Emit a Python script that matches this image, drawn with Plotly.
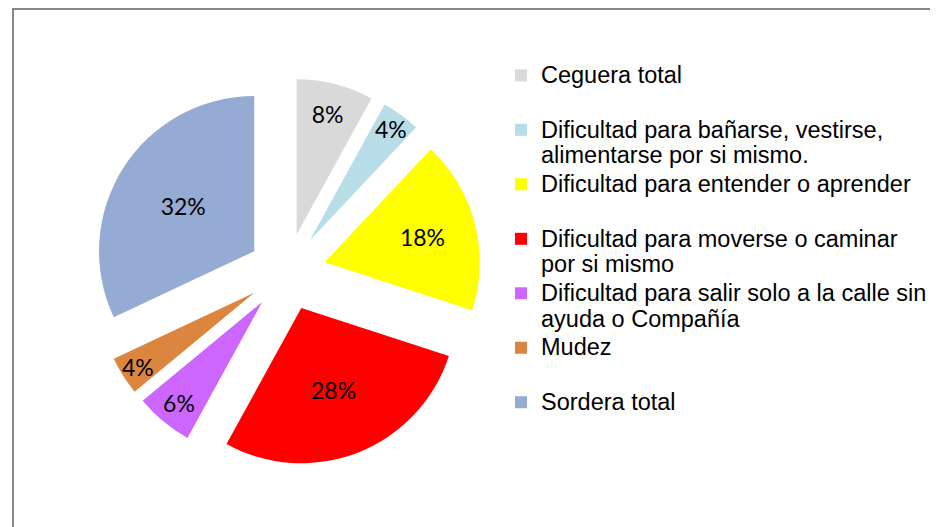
import plotly.graph_objects as go

labels = [
    "Ceguera total",
    "Dificultad para bañarse, vestirse,<br>alimentarse por si mismo.",
    "Dificultad para entender o aprender",
    "Dificultad para moverse o caminar<br>por si mismo",
    "Dificultad para salir solo a la calle sin<br>ayuda o Compañía",
    "Mudez",
    "Sordera total",
]
values = [8, 4, 18, 28, 6, 4, 32]
colors = ["#D9D9D9", "#B7DDE8", "#FFFF00", "#FF0000", "#CC66FF", "#DC853E", "#95ABD3"]
pulls = [0.25, 0.25, 0.25, 0.25, 0.25, 0.25, 0.25]

# extra blank lines mimic the legend slot spacing of the original
legend_pad = ["<br> ", "", "<br> ", "", "", "<br> ", ""]
span = "<span style='font-size:23.5px'>"
legend_labels = [
    span + l.replace("<br>", "</span><br>" + span) + "</span>" + p
    for l, p in zip(labels, legend_pad)
]

# page body has an 8px margin, so the figure is 8px smaller and offset
W, H = 930, 519
cx, cy, rdom = 279, 264, 194

fig = go.Figure(go.Pie(
    labels=legend_labels,
    values=values,
    sort=False,
    direction="clockwise",
    rotation=0,
    pull=pulls,
    marker=dict(colors=colors, line=dict(width=0)),
    textinfo="percent",
    texttemplate="%{percent:.0%}",
    textposition="inside",
    insidetextorientation="horizontal",
    textfont=dict(family="Lato", size=23, color="#000000"),
    domain=dict(x=[(cx - rdom) / W, (cx + rdom) / W], y=[1 - (cy + rdom) / H, 1 - (cy - rdom) / H]),
    hoverinfo="skip",
))

fig.update_layout(
    width=W, height=H,
    margin=dict(l=0, r=0, t=0, b=0),
    paper_bgcolor="white",
    plot_bgcolor="white",
    uniformtext=dict(minsize=23, mode="show"),
    showlegend=True,
    legend=dict(
        x=493 / W, y=1 - 48 / H, xanchor="left", yanchor="top",
        font=dict(family="Liberation Sans", size=19.8, color="#000000"),
        valign="top",
        bgcolor="rgba(0,0,0,0)",
        tracegroupgap=0,
    ),
    shapes=[dict(
        type="rect", xref="paper", yref="paper",
        x0=5 / W, x1=1.2, y0=-0.2, y1=1 - 1 / H,
        line=dict(color="#868686", width=2),
        fillcolor="rgba(0,0,0,0)",
    )],
)

fig.write_html("out.html")
